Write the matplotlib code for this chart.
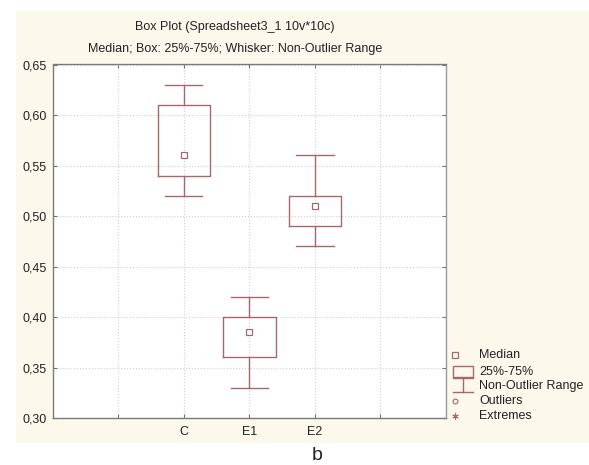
import matplotlib
matplotlib.use("Agg")
import matplotlib.pyplot as plt
from matplotlib.patches import Rectangle
from matplotlib.lines import Line2D

plt.rcParams['font.family'] = ['Liberation Sans', 'DejaVu Sans']

categories = ["C", "E1", "E2"]
medians = [0.56, 0.385, 0.51]
q1 = [0.54, 0.36, 0.49]
q3 = [0.61, 0.40, 0.52]
whisk_lo = [0.52, 0.33, 0.47]
whisk_hi = [0.63, 0.42, 0.56]
positions = [2, 3, 4]
yticks = [0.30, 0.35, 0.40, 0.45, 0.50, 0.55, 0.60, 0.65]
title1 = "Box Plot (Spreadsheet3_1 10v*10c)"
title2 = "Median; Box: 25%-75%; Whisker: Non-Outlier Range"
legend_labels = ["Median", "25%-75%", "Non-Outlier Range", "Outliers", "Extremes"]

W, H = 589, 465
col = '#a8666e'
cream = '#fdf8ec'
fs = 9

fig = plt.figure(figsize=(W/100, H/100), dpi=100)
fig.patch.set_facecolor('white')

bg = fig.add_axes([0, 0, 1, 1], zorder=-5)
bg.set_xlim(0, W)
bg.set_ylim(H, 0)
bg.axis('off')
bg.add_patch(Rectangle((16, 11), W - 16, 443 - 11, facecolor=cream, edgecolor='none'))

ax = fig.add_axes([52.7/W, 1-418/H, (446-52.7)/W, (418-64.5)/H], zorder=1)
ax.set_facecolor('white')

stats = []
for i in range(len(categories)):
    stats.append(dict(med=medians[i], q1=q1[i], q3=q3[i],
                      whislo=whisk_lo[i], whishi=whisk_hi[i], fliers=[],
                      label=categories[i]))
ax.bxp(stats, positions=positions, widths=0.8, capwidths=0.57,
       showfliers=False, manage_ticks=False,
       boxprops=dict(color=col, lw=1.0),
       whiskerprops=dict(color=col, lw=1.0),
       capprops=dict(color=col, lw=1.0),
       medianprops=dict(lw=0))
ax.plot(positions, medians, linestyle='none', marker='s', markersize=4.5,
        markerfacecolor='white', markeredgecolor=col, markeredgewidth=0.9,
        zorder=5)

ax.set_xlim(0, 6)
ax.set_ylim(0.30, 0.65)
ax.set_xticks([1, 2, 3, 4, 5])
ax.set_xticklabels(["", "C", "E1", "E2", ""])
ax.set_yticks(yticks)
ax.set_yticklabels([f"{v:.2f}".replace('.', ',') for v in yticks])
ax.tick_params(direction='in', length=3, width=0.8, color='#707070',
               top=True, right=True, labelsize=fs, labelcolor='#222222')
ax.tick_params(axis='x', pad=6)
ax.tick_params(axis='y', pad=4.5)
ax.grid(True, linestyle=':', color='#cfcfcf', lw=0.8)
ax.set_axisbelow(True)
for s in ax.spines.values():
    s.set_color('#7a7a7a')
    s.set_linewidth(1.0)
ax.spines['right'].set_color('#9a9a9a')

fig.text(235/W, 1-26.7/H, title1, ha='center', va='center', fontsize=fs, color='#222222')
fig.text(235/W, 1-49/H, title2, ha='center', va='center', fontsize=fs, color='#222222')

# legend drawn in pixel coordinates
lg = fig.add_axes([0, 0, 1, 1], zorder=10)
lg.set_xlim(0, W)
lg.set_ylim(H, 0)
lg.axis('off')
lg.patch.set_alpha(0)
ys = [355, 371.5, 386, 401, 416]
lg.plot([455], [ys[0]], marker='s', markersize=4, markerfacecolor='none',
        markeredgecolor=col, markeredgewidth=0.9, linestyle='none')
lg.add_patch(Rectangle((452.7, 366), 20, 10.7, facecolor='none', edgecolor=col, lw=1.0))
lg.add_line(Line2D([452.7, 472.7], [378.3, 378.3], color=col, lw=1.0))
lg.add_line(Line2D([462.5, 462.5], [378.3, 391.7], color=col, lw=1.0))
lg.add_line(Line2D([452.7, 472.7], [391.7, 391.7], color=col, lw=1.0))
lg.plot([455], [ys[3]], marker='o', markersize=3.5, markerfacecolor='none',
        markeredgecolor=col, markeredgewidth=0.8, linestyle='none')
lg.plot([455], [ys[4]], marker=(6, 2, 0), markersize=4.5, color=col,
        markeredgewidth=0.7, linestyle='none')
for y, t in zip(ys, legend_labels):
    lg.text(479, y, t, ha='left', va='center', fontsize=fs, color='#222222')

fig.text(317/W, 1-463.5/H, "b", ha='center', va='bottom', fontsize=14, color='#222222')

fig.savefig("out.png", dpi=100)
